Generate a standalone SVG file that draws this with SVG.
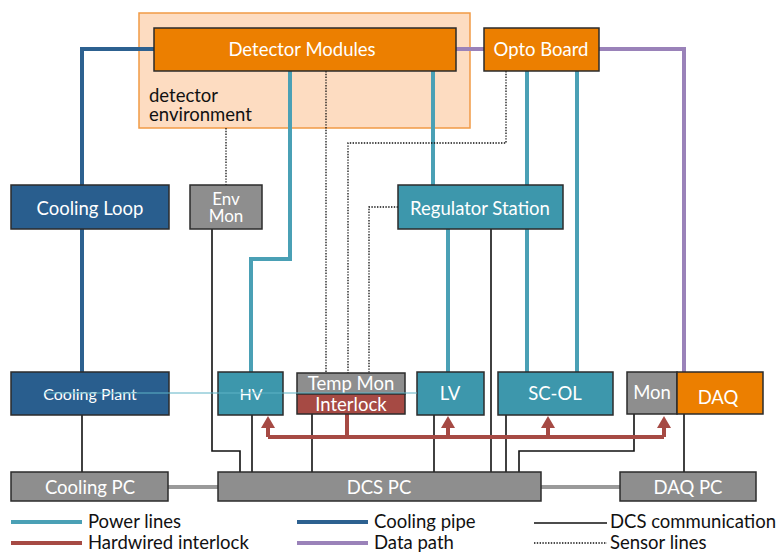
<svg xmlns="http://www.w3.org/2000/svg" width="777" height="552" viewBox="0 0 777 552">
<defs>
<style>
text{font-family:Lato,"Open Sans","Liberation Sans",sans-serif;}
.box{stroke:#2b2b2b;stroke-width:1.5;}
.orange{fill:#ec7f00;}
.teal{fill:#3d97ac;}
.gray{fill:#8e8e8e;}
.navy{fill:#295e8e;}
.red{fill:#a64a44;}
.t{fill:#ffffff;font-size:18.5px;text-anchor:middle;}
.ts{fill:#ffffff;font-size:16px;text-anchor:middle;}
.lg{fill:#111111;font-size:18.5px;}
.pw{fill:none;stroke:#4aa0b5;stroke-width:4;}
.cp{fill:none;stroke:#2d6190;stroke-width:4;}
.dp{fill:none;stroke:#9a82b9;stroke-width:4;}
.il{fill:none;stroke:#a64a44;stroke-width:4;}
.dcs{fill:none;stroke:#111111;stroke-width:1.6;}
.sn{fill:none;stroke:#111111;stroke-width:1.3;stroke-dasharray:1.4 1.4;}
.net{fill:none;stroke:#9a9a9a;stroke-width:4;}
</style>
<marker id="arr" viewBox="0 0 12 14" refX="0" refY="7" markerWidth="3" markerHeight="3.5" orient="auto" markerUnits="strokeWidth">
<path d="M0,0 L12,7 L0,14 Z" fill="#a64a44"/>
</marker>
</defs>

<g id="env">
<rect x="139" y="13" width="331" height="115" fill="#fddcc1" stroke="#f19a45" stroke-width="1.5"/>
<text class="lg" x="149" y="102">detector<tspan x="149" dy="19">environment</tspan></text>
</g>

<g id="connectors">
<!-- cooling pipe -->
<path class="cp" d="M154,49 H82 V185"/>
<path class="cp" d="M82,229 V372"/>
<!-- data path -->
<path class="dp" d="M456,49 H484"/>
<path class="dp" d="M599,49 H684 V372"/>
<!-- power lines -->
<path class="pw" d="M290,71 V259 H251 V372"/>
<path class="pw" d="M433,71 V185"/>
<path class="pw" d="M527,71 V185"/>
<path class="pw" d="M577,71 V372"/>
<path class="pw" d="M448,229 V372"/>
<path class="pw" d="M527,229 V372"/>
<!-- sensor lines -->
<path class="sn" d="M226,128 V185"/>
<path class="sn" d="M326,71 V373"/>
<path class="sn" d="M506,71 V143 H348 V373"/>
<path class="sn" d="M398,207 H369 V373"/>
<!-- DCS communication -->
<path class="dcs" d="M82,415 V472"/>
<path class="dcs" d="M212,229 V451 H240 V472"/>
<path class="dcs" d="M252,415 V472"/>
<path class="dcs" d="M312,414 V472"/>
<path class="dcs" d="M434,415 V472"/>
<path class="dcs" d="M491,229 V472"/>
<path class="dcs" d="M506,415 V472"/>
<path class="dcs" d="M634,414 V451 H519 V472"/>
<path class="dcs" d="M684,414 V472"/>
<!-- network -->
<path class="net" d="M168,487 H218"/>
<path class="net" d="M541,487 H620"/>
<!-- hardwired interlock -->
<path class="il" d="M268,437 H664"/>
<path class="il" d="M347,414 V437"/>
<path class="il" d="M268,437 V428" marker-end="url(#arr)"/>
<path class="il" d="M448,437 V428" marker-end="url(#arr)"/>
<path class="il" d="M548,437 V428" marker-end="url(#arr)"/>
<path class="il" d="M664,437 V428" marker-end="url(#arr)"/>
</g>

<g id="detector-modules">
<rect class="box orange" x="154" y="28" width="302" height="43"/>
<text class="t" x="302" y="56">Detector Modules</text>
</g>
<g id="opto-board">
<rect class="box orange" x="484" y="28" width="115" height="43"/>
<text class="t" x="541" y="56">Opto Board</text>
</g>
<g id="cooling-loop">
<rect class="box navy" x="11" y="185" width="158" height="44"/>
<text class="t" x="90" y="215">Cooling Loop</text>
</g>
<g id="env-mon">
<rect class="box gray" x="190" y="185" width="72" height="44"/>
<text class="t" x="226" y="205" style="font-size:17px">Env<tspan x="226" dy="17">Mon</tspan></text>
</g>
<g id="regulator-station">
<rect class="box teal" x="398" y="185" width="165" height="44"/>
<text class="t" x="480" y="215">Regulator Station</text>
</g>
<g id="cooling-plant">
<rect class="box navy" x="11" y="372" width="158" height="43"/>
<text class="ts" x="90" y="400">Cooling Plant</text>
</g>
<g id="hv">
<rect class="box teal" x="218" y="372" width="65" height="43"/>
<text class="ts" x="251" y="400">HV</text>
</g>
<g id="temp-mon">
<rect class="box gray" x="297" y="373" width="108" height="21"/>
<text class="t" x="351" y="390">Temp Mon</text>
</g>
<g id="interlock">
<rect class="box red" x="297" y="394" width="108" height="20"/>
<text class="t" x="351" y="411">Interlock</text>
</g>
<g id="lv">
<rect class="box teal" x="417" y="372" width="67" height="43"/>
<text class="t" x="450" y="400">LV</text>
</g>
<g id="sc-ol">
<rect class="box teal" x="498" y="372" width="115" height="43"/>
<text class="t" x="555" y="400">SC-OL</text>
</g>
<g id="mon">
<rect class="box gray" x="627" y="372" width="50" height="42"/>
<text class="t" x="652" y="399">Mon</text>
</g>
<g id="daq">
<rect class="box orange" x="677" y="372" width="86" height="42"/>
<text class="t" x="718" y="404">DAQ</text>
</g>
<g id="cooling-pc">
<rect class="box gray" x="11" y="472" width="157" height="29"/>
<text class="t" x="90" y="494">Cooling PC</text>
</g>
<g id="dcs-pc">
<rect class="box gray" x="218" y="472" width="323" height="29"/>
<text class="t" x="379" y="494">DCS PC</text>
</g>
<g id="daq-pc">
<rect class="box gray" x="620" y="472" width="136" height="29"/>
<text class="t" x="688" y="494">DAQ PC</text>
</g>

<g id="hv-thin">
<path d="M45,393 H417" fill="none" stroke="#5fb3c6" stroke-width="1"/>
</g>

<g id="legend">
<path class="pw" d="M11,522 H82"/>
<text class="lg" x="88" y="528">Power lines</text>
<path class="il" d="M11,543 H82"/>
<text class="lg" x="88" y="549">Hardwired interlock</text>
<path class="cp" d="M297,522 H368"/>
<text class="lg" x="374" y="528">Cooling pipe</text>
<path class="dp" d="M297,543 H368"/>
<text class="lg" x="374" y="549">Data path</text>
<path class="dcs" d="M534,523 H607"/>
<text class="lg" x="610" y="528">DCS communication</text>
<path class="sn" d="M534,543 H607"/>
<text class="lg" x="610" y="549">Sensor lines</text>
</g>
</svg>
